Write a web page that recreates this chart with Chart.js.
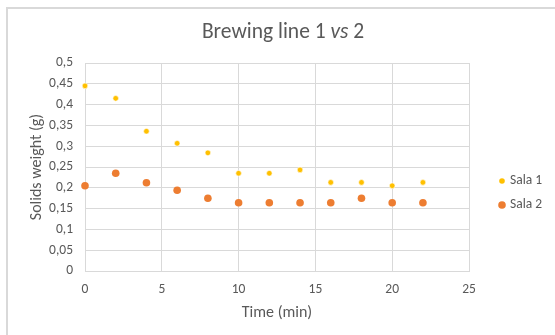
<!DOCTYPE html>
<html>
<head>
<meta charset="utf-8">
<script src="https://cdn.jsdelivr.net/npm/chart.js@4/dist/chart.umd.min.js"></script>
<style>
  html, body { margin: 0; padding: 0; background: #fff; overflow: hidden; }
  #frame { position: absolute; left: 6px; top: 7px; width: 600px; height: 400px;
           border: 2px solid #d9d9d9; box-sizing: border-box; }
  #wrap { position: absolute; left: 0; top: 0; width: 555px; height: 335px; }
</style>
</head>
<body>
<div id="frame"></div>
<div id="wrap"><canvas id="chart" width="555" height="335"></canvas></div>
<script>
// Sampling times (min)
const times = [0, 2, 4, 6, 8, 10, 12, 14, 16, 18, 20, 22];
// Solids weight (g) per line
const sala1 = [0.445, 0.415, 0.336, 0.307, 0.284, 0.235, 0.235, 0.243, 0.213, 0.213, 0.205, 0.213];
const sala2 = [0.205, 0.235, 0.212, 0.194, 0.175, 0.164, 0.164, 0.164, 0.164, 0.175, 0.164, 0.164];
const seriesNames = ['Sala 1', 'Sala 2'];
const xTickValues = [0, 5, 10, 15, 20, 25];
const yTickValues = [0, 0.05, 0.1, 0.15, 0.2, 0.25, 0.3, 0.35, 0.4, 0.45, 0.5];

const FONT = 'Carlito, Lato, "Open Sans", sans-serif';
const TEXT = '#595959';
const GRID = '#d9d9d9';

const toPoints = (xs, ys) => xs.map((x, i) => ({ x: x, y: ys[i] }));
const comma = v => String(Number(v.toFixed(2))).replace('.', ',');

// Title with italic "vs"
const titlePlugin = {
  id: 'mixedTitle',
  afterDraw(chart) {
    const ctx = chart.ctx;
    const size = 21.5;
    const parts = [
      { t: 'Brewing line 1 ', f: `${size}px ${FONT}` },
      { t: 'vs', f: `italic ${size}px ${FONT}` },
      { t: ' 2', f: `${size}px ${FONT}` }
    ];
    ctx.save();
    ctx.fillStyle = TEXT;
    ctx.textBaseline = 'middle';
    let total = 0;
    parts.forEach(p => { ctx.font = p.f; p.w = ctx.measureText(p.t).width; total += p.w; });
    let x = 283 - total / 2;
    parts.forEach(p => { ctx.font = p.f; ctx.textAlign = 'left'; ctx.fillText(p.t, x, 33); x += p.w; });
    ctx.restore();
  }
};

// Legend on the right, built from the datasets
const legendPlugin = {
  id: 'sideLegend',
  afterDraw(chart) {
    const ctx = chart.ctx;
    const rows = [181, 205];
    ctx.save();
    chart.data.datasets.forEach((ds, i) => {
      const y = rows[i];
      ctx.beginPath();
      ctx.arc(502, y, ds.pointRadius, 0, Math.PI * 2);
      ctx.fillStyle = ds.backgroundColor;
      ctx.fill();
      ctx.fillStyle = TEXT;
      ctx.font = `13.5px ${FONT}`;
      ctx.textAlign = 'left';
      ctx.textBaseline = 'middle';
      ctx.fillText(ds.label, 510, y);
    });
    ctx.restore();
  }
};

new Chart(document.getElementById('chart'), {
  type: 'scatter',
  data: {
    datasets: [
      {
        label: seriesNames[0],
        data: toPoints(times, sala1),
        backgroundColor: '#FFC000',
        borderColor: '#ffffff',
        borderWidth: 0.6,
        pointRadius: 2.8,
        clip: false
      },
      {
        label: seriesNames[1],
        data: toPoints(times, sala2),
        backgroundColor: '#ED7D31',
        borderColor: '#ED7D31',
        borderWidth: 0,
        pointRadius: 3.8,
        clip: false
      }
    ]
  },
  plugins: [titlePlugin, legendPlugin],
  options: {
    responsive: false,
    animation: false,
    devicePixelRatio: 1,
    layout: { padding: { top: 63, right: 86, bottom: 0, left: 0 } },
    plugins: {
      legend: { display: false },
      title: { display: false },
      tooltip: { enabled: false }
    },
    scales: {
      x: {
        type: 'linear',
        min: 0, max: 25,
        afterFit(s) { s.height = 64; },
        afterBuildTicks(s) { s.ticks = xTickValues.map(v => ({ value: v })); },
        ticks: { color: TEXT, font: { family: FONT, size: 13.5 }, padding: 11,
                 callback: v => comma(v), maxRotation: 0 },
        grid: { color: GRID, lineWidth: 1, drawTicks: false },
        border: { color: GRID, width: 1 },
        title: { display: true, text: 'Time (min)', color: TEXT,
                 font: { family: FONT, size: 16 }, padding: { top: 12, bottom: 12 } }
      },
      y: {
        type: 'linear',
        min: 0, max: 0.5,
        afterFit(s) { s.width = 85; },
        afterBuildTicks(s) { s.ticks = yTickValues.map(v => ({ value: v })); },
        ticks: { color: TEXT, font: { family: FONT, size: 13.5 }, padding: 12,
                 callback: v => comma(v) },
        grid: { color: GRID, lineWidth: 1, drawTicks: false },
        border: { color: GRID, width: 1 },
        title: { display: true, text: 'Solids weight (g)', color: TEXT,
                 font: { family: FONT, size: 16 }, padding: { top: 27, bottom: 27 } }
      }
    }
  }
});
</script>
</body>
</html>
